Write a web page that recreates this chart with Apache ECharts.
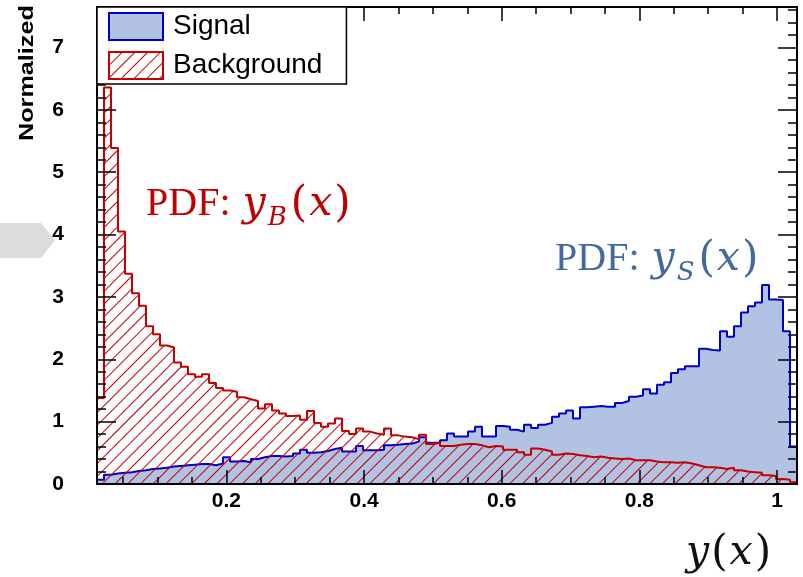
<!DOCTYPE html>
<html>
<head>
<meta charset="utf-8">
<script src="https://cdn.jsdelivr.net/npm/echarts@6/dist/echarts.min.js"></script>
<style>
html, body { margin: 0; padding: 0; background: #fff; }
#chart { width: 803px; height: 577px; }
</style>
</head>
<body>
<div id="chart"></div>
<script>
// histogram range (100 equal bins)
const xMin = 0.012;
const xMax = 1.029;

const signal = [
	0.07, 0.15, 0.17, 0.18, 0.19, 0.21, 0.22, 0.24, 0.25, 0.26,
	0.28, 0.29, 0.30, 0.31, 0.32, 0.32, 0.30, 0.33, 0.43, 0.36,
	0.37, 0.35, 0.40, 0.43, 0.45, 0.45, 0.44, 0.45, 0.49, 0.55,
	0.50, 0.51, 0.53, 0.56, 0.58, 0.52, 0.52, 0.61, 0.54, 0.54,
	0.55, 0.62, 0.63, 0.64, 0.65, 0.68, 0.75, 0.66, 0.66, 0.70,
	0.81, 0.76, 0.76, 0.84, 0.92, 0.76, 0.76, 0.93, 0.92, 0.87,
	0.84, 0.95, 0.90, 0.95, 0.98, 1.08, 1.13, 1.18, 1.05, 1.23,
	1.24, 1.25, 1.24, 1.24, 1.30, 1.33, 1.40, 1.42, 1.52, 1.45,
	1.59, 1.63, 1.78, 1.84, 1.89, 1.89, 2.17, 2.15, 2.14, 2.45,
	2.36, 2.53, 2.75, 2.85, 2.91, 3.19, 2.96, 2.95, 2.45, 0.60
];

const background = [
	1.38, 6.36, 5.39, 4.05, 3.37, 3.06, 2.86, 2.53, 2.40, 2.22,
	2.19, 1.95, 1.88, 1.76, 1.72, 1.76, 1.62, 1.54, 1.50, 1.48,
	1.39, 1.36, 1.33, 1.21, 1.28, 1.18, 1.13, 1.09, 1.10, 1.03,
	1.17, 0.98, 0.92, 0.97, 1.05, 0.85, 0.80, 0.89, 0.84, 0.81,
	0.79, 0.89, 0.78, 0.76, 0.75, 0.72, 0.79, 0.64, 0.66, 0.61,
	0.61, 0.63, 0.64, 0.64, 0.62, 0.59, 0.61, 0.60, 0.55, 0.55,
	0.51, 0.47, 0.57, 0.55, 0.52, 0.47, 0.49, 0.48, 0.46, 0.45,
	0.43, 0.44, 0.42, 0.41, 0.40, 0.41, 0.38, 0.38, 0.38, 0.36,
	0.35, 0.35, 0.34, 0.35, 0.33, 0.30, 0.27, 0.27, 0.26, 0.24,
	0.26, 0.22, 0.20, 0.19, 0.18, 0.14, 0.13, 0.08, 0.07, 0.03
];

const xLabels = [0.2, 0.4, 0.6, 0.8, 1];
const xMinorTicks = [0.05, 0.1, 0.15, 0.2, 0.25, 0.3, 0.35, 0.4, 0.45, 0.5,
	0.55, 0.6, 0.65, 0.7, 0.75, 0.8, 0.85, 0.9, 0.95, 1.0];
const yLabels = [0, 1, 2, 3, 4, 5, 6, 7];
const yMax = 7.65;
const yMinorTicks = [];
for (let k = 1; k <= 38; k++) yMinorTicks.push(+(k * 0.2).toFixed(1));

// histogram outline as step points (bin edges)
function steps(vals) {
	let w = (xMax - xMin) / vals.length;
	let pts = [[xMin, 0]];
	vals.forEach(function (v, i) { pts.push([xMin + i * w, v]); });
	pts.push([xMax, vals[vals.length - 1]]);
	pts.push([xMax, 0]);
	return pts;
}

var chart = echarts.init(document.getElementById('chart'));

var frameLine = { show: true, onZero: false, lineStyle: { color: '#000', width: 2 } };
var noLine = { show: false, onZero: false };
var labelFont = { fontFamily: 'Liberation Sans', fontWeight: 'bold', fontSize: 21, color: '#000' };

function xAx(grid, pos, major) {
	return {
		type: 'value', gridIndex: grid, position: pos, min: xMin, max: xMax, z: 5,
		axisLine: major ? frameLine : noLine,
		axisTick: { show: true, inside: true, length: major ? 14 : 7,
			customValues: major ? xLabels : xMinorTicks, lineStyle: { color: '#000', width: 1.5 } },
		axisLabel: (major && pos === 'bottom')
			? Object.assign({ show: true, customValues: xLabels, margin: 7 }, labelFont)
			: { show: false },
		splitLine: { show: false }
	};
}
function yAx(grid, pos, major) {
	return {
		type: 'value', gridIndex: grid, position: pos, min: 0, max: yMax, z: 5,
		axisLine: major ? frameLine : noLine,
		axisTick: { show: true, inside: true, length: major ? 19 : 9,
			customValues: major ? yLabels : yMinorTicks, lineStyle: { color: '#000', width: 1.5 } },
		axisLabel: (major && pos === 'left')
			? Object.assign({ show: true, customValues: yLabels, margin: 33 }, labelFont)
			: { show: false },
		splitLine: { show: false }
	};
}

var gridBox = { left: 97, right: 6, top: 7, bottom: 93, outerBoundsMode: 'none' };

var serif = 'Liberation Serif';
var mathFont = 'DejaVu Serif';
function pdfRich(col) {
	return {
		u: { fontFamily: serif, fontSize: 40, lineHeight: 40, verticalAlign: 'top', fill: col },
		p: { fontFamily: mathFont, fontSize: 42, lineHeight: 40, verticalAlign: 'top', fill: col },
		i: { fontFamily: mathFont, fontStyle: 'italic', fontSize: 41, lineHeight: 40, verticalAlign: 'top', padding: [0, 2, 0, 2], fill: col },
		s: { fontFamily: mathFont, fontStyle: 'italic', fontSize: 26, lineHeight: 26, verticalAlign: 'top', padding: [21, 4, 0, 0], fill: col }
	};
}

var option = {
	animation: false,
	backgroundColor: '#fff',
	grid: [Object.assign({}, gridBox), Object.assign({}, gridBox)],
	xAxis: [xAx(0, 'bottom', true), xAx(0, 'top', true), xAx(1, 'bottom', false), xAx(1, 'top', false)],
	yAxis: [yAx(0, 'left', true), yAx(0, 'right', true), yAx(1, 'left', false), yAx(1, 'right', false)],

	legend: {
		orient: 'vertical',
		left: 97, top: 7,
		padding: [5, 24, 4, 11],
		itemGap: 10,
		itemWidth: 54, itemHeight: 27,
		backgroundColor: '#fff',
		borderColor: '#000', borderWidth: 1.5,
		selectedMode: false,
		z: 6,
		textStyle: { fontFamily: 'Liberation Sans', fontSize: 28, lineHeight: 27, color: '#000', padding: [0, 0, 0, 5] },
		data: [
			{ name: 'Signal', icon: 'rect', itemStyle: { color: '#b1c2e3', borderColor: '#0000c8', borderWidth: 2 } },
			{ name: 'Background', icon: 'rect', itemStyle: { color: '#ffffff', borderColor: '#c40000', borderWidth: 2 } }
		]
	},

	series: [
		{
			name: 'Signal', type: 'line', step: 'end', symbol: 'none',
			xAxisIndex: 0, yAxisIndex: 0, z: 2, silent: true,
			data: steps(signal),
			lineStyle: { color: '#0000c8', width: 2 },
			itemStyle: { color: '#0000c8' },
			areaStyle: { color: '#b1c2e3', opacity: 1 }
		},
		{
			name: 'Background', type: 'line', step: 'end', symbol: 'none',
			xAxisIndex: 0, yAxisIndex: 0, z: 3, silent: true,
			data: steps(background),
			lineStyle: { color: '#c40000', width: 2 },
			itemStyle: {
				color: '#c40000',
				decal: {
					symbol: 'rect', symbolSize: 1,
					color: '#c40000', backgroundColor: null,
					dashArrayX: [1, 0], dashArrayY: [1, 8],
					rotation: -Math.PI / 4
				}
			},
			areaStyle: { color: 'rgba(255,255,255,0)', opacity: 1 }
		}
	],

	graphic: [
		{
			type: 'polygon', z: 1,
			shape: { points: [[0, 223], [41, 223], [55, 240], [41, 258], [0, 258]] },
			style: { fill: '#dcdcdc' }
		},
		{
			type: 'text', x: 27, y: 141, rotation: Math.PI / 2, scaleX: 1.2,
			style: { text: 'Normalized', fill: '#000', font: 'bold 21px "Liberation Sans"',
				textAlign: 'left', textVerticalAlign: 'middle' }
		},
		{
			type: 'text', x: 146, y: 184, z: 10,
			style: {
				text: '{u|PDF: }{i|y}{s|B}{p|(}{i|x}{p|)}',
				fill: '#c00000', textVerticalAlign: 'top',
				rich: pdfRich('#c00000')
			}
		},
		{
			type: 'text', x: 555, y: 239, z: 10,
			style: {
				text: '{u|PDF: }{i|y}{s|S}{p|(}{i|x}{p|)}',
				fill: '#44699f', textVerticalAlign: 'top',
				rich: pdfRich('#44699f')
			}
		},
		{
			type: 'text', x: 684, y: 533, z: 10,
			style: {
				text: '{i|y}{p|(}{i|x}{p|)}',
				fill: '#111', textVerticalAlign: 'top',
				rich: pdfRich('#111')
			}
		}
	]
};

chart.setOption(option);
</script>
</body>
</html>
